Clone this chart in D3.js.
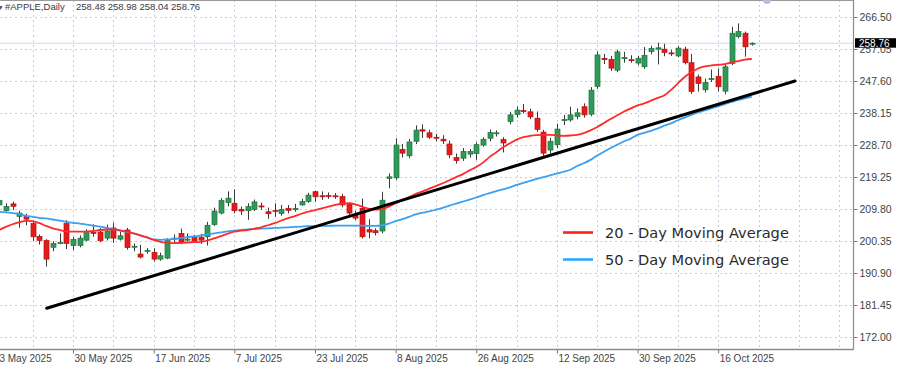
<!DOCTYPE html>
<html><head><meta charset="utf-8">
<script src="https://cdn.jsdelivr.net/npm/d3@7"></script>
<style>html,body{margin:0;padding:0;background:#fff;overflow:hidden}svg{display:block;font-family:"Liberation Sans",Arial,sans-serif}</style>
</head><body><svg id="c" width="900" height="365"></svg>
<script>
// ---- data (daily bars 14 May 2025 .. 23 Oct 2025) ----
const open = [211.0,209.3,211.3,207.6,207.6,205.5,201.7,200.5,198.5,199.7,
205.5,199.0,199.0,200.6,202.9,203.0,201.2,204.2,200.9,203.6,
198.6,196.5,197.3,197.0,195.0,195.3,200.9,202.6,200.6,201.6,
201.5,201.6,205.2,208.6,211.7,211.5,209.7,209.3,209.7,210.7,
209.0,209.4,208.5,210.0,209.6,211.0,212.0,214.9,213.7,213.8,
213.7,213.5,211.3,208.0,210.0,203.7,203.4,203.3,218.8,219.0,
227.4,225.5,229.8,233.2,232.3,231.0,230.4,229.0,225.0,224.8,
226.0,226.2,228.7,230.7,232.0,230.3,235.6,237.7,238.9,238.5,
236.6,232.5,227.2,228.8,235.9,236.1,237.1,240.0,237.8,246.0,
254.3,254.0,250.8,254.2,253.9,252.9,251.8,256.3,257.0,257.0,
255.9,255.0,257.0,253.0,248.8,245.0,248.0,249.0,244.6,252.8,
260.7,261.7,258.48];
const high = [212.9,211.5,212.0,209.3,208.4,206.2,202.3,200.9,200.3,202.6,
206.5,201.5,202.0,203.8,205.3,204.2,205.2,205.8,203.0,204.2,
199.6,199.2,198.3,198.2,196.9,201.2,202.3,204.0,202.6,202.2,
202.5,206.0,210.2,213.0,215.0,215.6,210.5,211.5,212.6,211.7,
210.2,211.5,211.0,211.0,211.3,212.8,214.6,215.2,215.0,214.7,
214.5,214.3,211.8,209.2,212.9,206.8,204.1,214.9,220.3,230.7,
229.0,230.5,234.5,234.8,233.2,232.0,231.6,230.0,226.2,227.8,
227.5,229.5,231.0,233.3,233.0,231.0,238.5,240.0,240.8,239.4,
238.6,233.2,230.8,235.0,237.6,240.0,239.5,241.0,245.8,256.3,
255.6,255.0,256.8,256.2,255.2,255.0,257.6,258.0,258.9,258.6,
256.8,257.9,257.7,255.6,249.5,248.3,251.0,251.3,252.5,263.6,
264.6,262.2,258.98];
const low = [210.5,209.0,209.5,204.3,205.0,200.4,199.3,192.8,197.3,199.4,
198.0,197.7,198.5,200.3,201.6,200.0,200.5,199.8,200.5,197.8,
197.3,195.2,196.6,194.3,194.5,195.0,199.8,199.4,200.2,199.8,
199.5,199.0,204.8,208.2,210.6,208.5,208.0,206.6,209.2,209.6,
206.9,207.5,207.8,208.5,209.0,210.8,211.6,211.9,212.5,212.8,
212.8,210.3,207.8,206.5,201.1,201.2,202.0,202.6,215.9,218.4,
225.0,224.8,229.0,230.8,230.5,229.8,229.0,224.8,223.2,224.0,
225.0,224.3,228.2,229.8,231.2,226.5,234.8,236.8,238.0,236.3,
232.6,225.5,226.2,227.8,234.6,235.6,236.3,236.8,237.2,245.3,
252.6,250.6,250.2,253.0,253.0,252.3,251.2,255.5,252.5,254.9,
255.0,254.6,252.5,243.8,244.5,244.2,247.3,244.5,243.7,252.3,
260.2,254.8,258.04];
const close = [212.3,210.5,210.6,208.6,206.8,201.6,200.5,195.0,199.6,199.9,
199.6,200.8,201.2,203.1,202.7,200.4,203.3,201.2,201.9,198.4,
198.8,195.6,197.6,195.0,196.0,200.6,201.2,200.0,200.9,200.3,
200.6,205.0,209.2,212.3,213.0,209.3,209.2,210.5,211.9,210.5,
208.4,209.2,209.7,209.4,210.0,212.0,213.9,213.4,213.5,213.6,
213.5,211.0,208.6,207.1,201.6,203.0,202.8,212.4,219.3,228.7,
226.3,229.6,233.1,232.8,231.0,230.7,229.9,225.8,224.1,226.8,
226.8,228.8,230.4,232.4,232.3,229.3,237.6,239.0,238.7,237.0,
233.3,226.3,229.8,233.4,236.2,237.6,238.2,237.6,244.9,255.3,
253.9,251.4,256.2,254.5,253.6,254.3,255.2,257.2,257.4,256.0,
255.7,257.3,253.0,244.5,246.9,247.2,248.3,245.9,251.8,261.7,
262.2,257.7,258.76];
const ma20 = [203.6,204.5,205.3,205.9,206.3,206.2,205.6,204.8,204.1,203.6,
203.2,203.1,203.1,203.1,203.3,203.6,203.7,203.8,203.5,203.1,
202.6,202.0,201.4,200.7,200.1,199.8,199.7,199.8,199.9,200.0,
200.1,200.5,201.1,201.8,202.5,203.1,203.4,203.6,204.0,204.4,
205.0,205.6,206.4,207.1,207.7,208.4,209.0,209.5,210.0,210.5,
211.0,211.4,211.5,211.2,210.5,209.9,209.6,209.8,210.5,211.5,
212.5,213.3,214.3,215.0,215.8,216.6,217.4,218.3,219.2,220.1,
221.2,222.2,223.5,225.2,226.6,228.0,229.2,230.3,231.0,231.4,
231.6,231.7,231.7,231.5,231.4,231.5,231.7,232.2,233.0,234.0,
235.2,236.4,237.5,238.6,239.5,240.4,241.0,241.8,242.6,243.4,
245.0,246.9,248.8,250.2,251.3,251.9,252.2,252.4,252.6,253.1,
253.5,253.9,254.1];
const ma50 = [209.0,208.8,208.6,208.3,207.8,207.5,207.2,207.0,206.7,206.4,
206.0,205.7,205.5,205.2,204.9,204.6,204.2,203.8,203.4,203.0,
202.6,202.0,201.4,200.8,200.7,200.8,201.0,201.2,201.5,201.7,
202.0,202.3,202.6,202.9,203.2,203.4,203.6,203.8,203.9,204.0,
204.1,204.2,204.3,204.4,204.5,204.6,204.7,204.7,204.8,204.8,
204.9,204.9,204.9,204.9,204.9,204.8,204.8,205.0,205.5,206.2,
206.8,207.5,208.2,208.7,209.1,209.6,210.1,210.8,211.4,212.0,
212.6,213.2,213.9,214.5,215.1,215.6,216.2,216.9,217.5,218.1,
218.7,219.2,219.7,220.3,220.8,221.4,222.5,223.3,224.3,225.6,
226.7,227.8,228.8,229.8,230.6,231.7,232.3,232.9,233.6,234.4,
235.1,236.0,236.8,237.6,238.3,238.9,239.5,240.1,240.8,241.4,
242.0,242.5,243.0];
const tickIdx = [-1,11,23,35,47,59,71,83,95,107];
const tickLabels = ["13 May 2025","30 May 2025","17 Jun 2025","7 Jul 2025","23 Jul 2025","8 Aug 2025","26 Aug 2025","12 Sep 2025","30 Sep 2025","16 Oct 2025"];
const yTicks = [172.00,181.45,190.90,200.35,209.80,219.25,228.70,238.15,247.60,257.05,266.50];
const headerSymbol = "#APPLE,Daily";
const headerOHLC = "258.48 258.98 258.04 258.76";
const lastPrice = 258.76;
const trendIdx = [7.08, 118.43];
const trendVal = [180.5, 247.6];
const legendLabels = ["20 - Day Moving Average","50 - Day Moving Average"];

// ---- layout ----
const svg = d3.select("#c");
const plotR = 853.5, plotB = 349.5;
const x = d3.scaleLinear().domain([0,112]).range([-0.9, 751.8]);
const y = d3.scaleLinear().domain([172, 266.5]).range([337, 17]);
const idx = d3.range(close.length);

svg.append("defs").append("clipPath").attr("id","clip")
  .append("rect").attr("x",0).attr("y",0).attr("width",plotR).attr("height",plotB);

const grid = svg.append("g").attr("clip-path","url(#clip)");
// vertical grid every 6 bars
grid.selectAll("line.v").data(d3.range(-1,126,6)).join("line")
  .attr("x1",d=>Math.round(x(d))+0.5).attr("x2",d=>Math.round(x(d))+0.5)
  .attr("y1",0).attr("y2",plotB)
  .attr("stroke","#c3cde0").attr("stroke-width",1).attr("stroke-dasharray","2,3");
grid.selectAll("line.h").data(yTicks).join("line")
  .attr("x1",0).attr("x2",plotR).attr("y1",d=>Math.round(y(d))+0.5).attr("y2",d=>Math.round(y(d))+0.5)
  .attr("stroke","#c3cde0").attr("stroke-width",1).attr("stroke-dasharray","2,3");
// last price line
grid.append("line").attr("x1",0).attr("x2",plotR)
  .attr("y1",y(lastPrice)).attr("y2",y(lastPrice))
  .attr("stroke","#cfd8ea").attr("stroke-width",1);

// frame
svg.append("line").attr("x1",0).attr("x2",plotR).attr("y1",0.5).attr("y2",0.5).attr("stroke","#9a9a9a");
svg.append("line").attr("x1",plotR).attr("x2",plotR).attr("y1",0).attr("y2",plotB).attr("stroke","#8a8a8a").attr("stroke-width",1.2);
svg.append("line").attr("x1",0).attr("x2",plotR).attr("y1",plotB).attr("y2",plotB).attr("stroke","#8a8a8a").attr("stroke-width",1.4);
svg.append("circle").attr("cx",767).attr("cy",0).attr("r",4).attr("fill","#b4c0d8");

const plot = svg.append("g").attr("clip-path","url(#clip)");

// candles
const bw = 5;
const cg = plot.append("g");
cg.selectAll("line.w").data(idx).join("line")
  .attr("x1",i=>Math.round(x(i))+0.5).attr("x2",i=>Math.round(x(i))+0.5)
  .attr("y1",i=>y(high[i])).attr("y2",i=>y(low[i]))
  .attr("stroke","#3a3a3a").attr("stroke-width",1);
cg.selectAll("rect").data(idx).join("rect")
  .attr("x",i=>Math.round(x(i))+0.5-bw/2)
  .attr("y",i=>y(Math.max(open[i],close[i])))
  .attr("width",bw)
  .attr("height",i=>Math.max(1,Math.abs(y(open[i])-y(close[i]))))
  .attr("fill",i=>close[i]>=open[i]?"#2f9a58":"#e51b1b")
  .attr("stroke",i=>close[i]>=open[i]?"#22703f":"#b51010")
  .attr("stroke-width",0.7);

// moving averages
const line = d3.line().x(i=>x(i)).y(d=>d).curve(d3.curveMonotoneX);
const lineMA = arr => d3.line().x((d,i)=>x(i)).y(d=>y(d)).curve(d3.curveMonotoneX)(arr);
plot.append("path").attr("d",lineMA(ma50)).attr("fill","none").attr("stroke","#3b9ff2").attr("stroke-width",1.8);
plot.append("path").attr("d",lineMA(ma20)).attr("fill","none").attr("stroke","#ff2a2a").attr("stroke-width",1.8);

// trend line
plot.append("line")
  .attr("x1",x(trendIdx[0])).attr("y1",y(trendVal[0]))
  .attr("x2",x(trendIdx[1])).attr("y2",y(trendVal[1]))
  .attr("stroke","#000").attr("stroke-width",3).attr("stroke-linecap","round");

// y axis
const ya = svg.append("g").attr("transform",`translate(${plotR},0)`)
  .call(d3.axisRight(y).tickValues(yTicks).tickFormat(d3.format(".2f")).tickSize(4).tickPadding(2));
ya.select(".domain").remove();
ya.selectAll(".tick line").attr("stroke","#777");
ya.selectAll(".tick text").attr("fill","#444").attr("font-size","10.5px").attr("font-family","Liberation Sans, Arial, sans-serif");

// x axis
const xa = svg.append("g").attr("transform",`translate(0,${plotB})`)
  .call(d3.axisBottom(x).tickValues(tickIdx).tickFormat((d,i)=>tickLabels[i]).tickSize(4).tickPadding(0));
xa.select(".domain").remove();
xa.selectAll(".tick line").attr("stroke","#777");
xa.selectAll(".tick text").attr("fill","#444").attr("font-size","10px")
  .attr("font-family","Liberation Sans, Arial, sans-serif")
  .attr("text-anchor","start").attr("dx","1").attr("y",5).attr("dy","0.71em");

// last price label
const lp = svg.append("g").attr("transform",`translate(855,${y(lastPrice)})`);
lp.append("rect").attr("x",0).attr("y",-5).attr("width",41).attr("height",9.5).attr("fill","#000");
lp.append("text").attr("x",4).attr("y",3.6).attr("fill","#fff").attr("font-size","10px").text(lastPrice.toFixed(2));

// header
svg.append("text").attr("x",-3).attr("y",9.5).attr("font-size","7px").attr("fill","#555").text("▼");
svg.append("text").attr("x",5).attr("y",9.5).attr("font-size","9.5px").attr("fill","#3a3a3a").text(headerSymbol);
svg.append("text").attr("x",76).attr("y",9.5).attr("font-size","9.5px").attr("fill","#3a3a3a").text(headerOHLC);

// legend
const leg = svg.append("g");
const legColors = ["#ff1f1f","#2ba8ff"];
const legY = [232.5, 259.5];
legendLabels.forEach((t,k)=>{
  leg.append("line").attr("x1",563).attr("x2",593).attr("y1",legY[k]).attr("y2",legY[k])
    .attr("stroke",legColors[k]).attr("stroke-width",2.6);
  leg.append("text").attr("x",605).attr("y",legY[k]+5.3)
    .attr("font-family","DejaVu Sans, Verdana, sans-serif").attr("font-size","14.6px")
    .attr("fill","#2b2b2b").text(t);
});
</script></body></html>
